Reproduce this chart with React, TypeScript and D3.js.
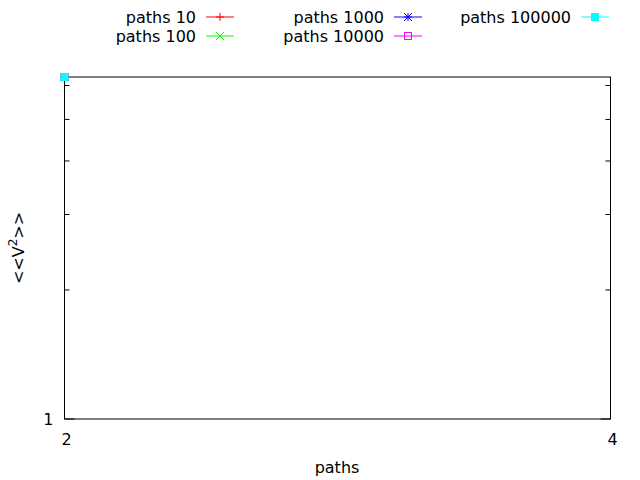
import { useEffect, useRef } from 'react';
import * as d3 from 'd3';

// ─── Data ───────────────────────────────────────────────────

const SERIES_NAMES = ['paths 10', 'paths 100', 'paths 1000', 'paths 10000', 'paths 100000'];
const SERIES_COLORS = ['#ff0000', '#00ff00', '#0000ff', '#ff00ff', '#00ffff'];
const SERIES_SYMBOLS = ['plus', 'cross', 'star', 'box', 'fbox'];
const X_VALUES = [2];
const Y_VALUES = [[6.28], [6.28], [6.28], [6.28], [6.28]];

const X_DOMAIN = [2, 4];
const Y_DOMAIN = [1, 6.28];
const X_TICKS = [2, 4];
const Y_MAJOR_TICKS = [1];
const Y_MINOR_TICKS = [2, 3, 4, 5, 6];

// ─── Constants ──────────────────────────────────────────────

const W = 640;
const H = 480;
const FONT = '"DejaVu Sans", sans-serif';
const FS = 16;
const margin = { top: 77, right: 29.5, bottom: 61, left: 64.5 };

function drawSymbol(
  g: d3.Selection<SVGGElement, unknown, null, undefined>,
  kind: string,
  cx: number,
  cy: number,
  color: string,
) {
  const s = 4;
  const sel = g.append('g').attr('stroke', color).attr('stroke-width', 1).attr('fill', 'none');
  if (kind === 'plus' || kind === 'star') {
    sel.append('line').attr('x1', cx - s).attr('x2', cx + s).attr('y1', cy).attr('y2', cy);
    sel.append('line').attr('x1', cx).attr('x2', cx).attr('y1', cy - s).attr('y2', cy + s);
  }
  if (kind === 'cross' || kind === 'star') {
    sel.append('line').attr('x1', cx - s).attr('x2', cx + s).attr('y1', cy - s).attr('y2', cy + s);
    sel.append('line').attr('x1', cx - s).attr('x2', cx + s).attr('y1', cy + s).attr('y2', cy - s);
  }
  if (kind === 'box') {
    sel.append('rect').attr('x', cx - s + 0.5).attr('y', cy - s + 0.5).attr('width', 2 * s - 1).attr('height', 2 * s - 1);
  }
  if (kind === 'fbox') {
    sel.append('rect').attr('x', cx - s).attr('y', cy - s).attr('width', 2 * s).attr('height', 2 * s)
      .attr('fill', color).attr('stroke', 'none');
  }
}

export default function App() {
  const svgRef = useRef<SVGSVGElement>(null);

  useEffect(() => {
    if (!svgRef.current) return;
    const svg = d3.select(svgRef.current);
    svg.selectAll('*').remove();

    const x0 = margin.left;
    const x1 = W - margin.right;
    const y0 = H - margin.bottom;
    const y1 = margin.top;

    const x = d3.scaleLinear().domain(X_DOMAIN).range([x0, x1]);
    const y = d3.scaleLog().domain(Y_DOMAIN).range([y0, y1]);

    const g = svg.append('g');

    // Ticks (mirrored on both sides)
    const tickLen = 5;
    const allY = [...Y_MAJOR_TICKS.map((v) => ({ v, len: tickLen * 2 })), ...Y_MINOR_TICKS.map((v) => ({ v, len: tickLen }))];
    allY.forEach(({ v, len }) => {
      g.append('line').attr('x1', x0).attr('x2', x0 + len).attr('y1', y(v)).attr('y2', y(v))
        .attr('stroke', '#000').attr('stroke-width', 1);
      g.append('line').attr('x1', x1).attr('x2', x1 - len).attr('y1', y(v)).attr('y2', y(v))
        .attr('stroke', '#000').attr('stroke-width', 1);
    });

    // Border
    g.append('rect')
      .attr('x', x0).attr('y', y1)
      .attr('width', x1 - x0).attr('height', y0 - y1)
      .attr('fill', 'none').attr('stroke', '#000').attr('stroke-width', 1);

    // Tick labels
    Y_MAJOR_TICKS.forEach((v) => {
      g.append('text').attr('x', x0 - 11).attr('y', y(v)).attr('dy', '0.35em')
        .attr('text-anchor', 'end').attr('font-family', FONT).attr('font-size', FS).text(String(v));
    });
    X_TICKS.forEach((v) => {
      g.append('text').attr('x', x(v) + 2).attr('y', y0 + 20).attr('dy', '0.35em')
        .attr('text-anchor', 'middle').attr('font-family', FONT).attr('font-size', FS).text(String(v));
    });

    // Axis labels
    g.append('text').attr('x', 337).attr('y', 467).attr('dy', '0.35em')
      .attr('text-anchor', 'middle').attr('font-family', FONT).attr('font-size', FS).text('paths');
    const yl = g.append('text')
      .attr('transform', `translate(24,${(y0 + y1) / 2}) rotate(-90)`)
      .attr('text-anchor', 'middle').attr('font-family', FONT).attr('font-size', FS);
    yl.append('tspan').text('<<V');
    yl.append('tspan').attr('dy', -7).attr('font-size', FS * 0.75).text('2');
    yl.append('tspan').attr('dy', 7).text('>>');

    // Data points
    SERIES_NAMES.forEach((_, i) => {
      X_VALUES.forEach((xv, j) => {
        drawSymbol(g, SERIES_SYMBOLS[i], x(xv), y(Y_VALUES[i][j]), SERIES_COLORS[i]);
      });
    });

    // Legend (3 columns, 2 rows, column-major)
    const colRight = [196, 384, 571];
    const rowY = [17, 36];
    SERIES_NAMES.forEach((name, i) => {
      const col = Math.floor(i / 2);
      const row = i % 2;
      const tx = colRight[col];
      const ty = rowY[row];
      g.append('text').attr('x', tx).attr('y', ty).attr('dy', '0.35em')
        .attr('text-anchor', 'end').attr('font-family', FONT).attr('font-size', FS).text(name);
      const lx0 = tx + 10;
      const lx1 = lx0 + 28;
      g.append('line').attr('x1', lx0).attr('x2', lx1).attr('y1', ty).attr('y2', ty)
        .attr('stroke', SERIES_COLORS[i]).attr('stroke-width', 1);
      drawSymbol(g, SERIES_SYMBOLS[i], (lx0 + lx1) / 2, ty, SERIES_COLORS[i]);
    });
  }, []);

  return (
    <svg ref={svgRef} width={W} height={H} style={{ display: 'block', position: 'absolute', left: 0, top: 0, background: '#fff' }} />
  );
}
